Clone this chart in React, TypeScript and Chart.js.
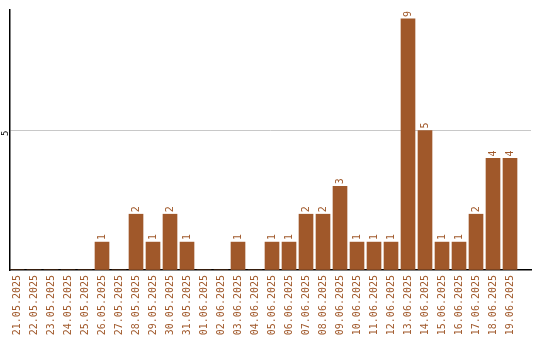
import React, { useEffect, useRef } from "react";
import { Chart, registerables } from "chart.js";

Chart.register(...registerables);

const dateLabels: string[] = [
  "21.05.2025", "22.05.2025", "23.05.2025", "24.05.2025", "25.05.2025",
  "26.05.2025", "27.05.2025", "28.05.2025", "29.05.2025", "30.05.2025",
  "31.05.2025", "01.06.2025", "02.06.2025", "03.06.2025", "04.06.2025",
  "05.06.2025", "06.06.2025", "07.06.2025", "08.06.2025", "09.06.2025",
  "10.06.2025", "11.06.2025", "12.06.2025", "13.06.2025", "14.06.2025",
  "15.06.2025", "16.06.2025", "17.06.2025", "18.06.2025", "19.06.2025",
];

const counts: number[] = [
  0, 0, 0, 0, 0,
  1, 0, 2, 1, 2,
  1, 0, 0, 1, 0,
  1, 1, 2, 2, 3,
  1, 1, 1, 9, 5,
  1, 1, 2, 4, 4,
];

const yTickValues: number[] = [0, 5];

const BROWN = "#A0582A";
const FONT = "DejaVu Sans Mono";

const valueLabelPlugin = {
  id: "valueLabels",
  afterDatasetsDraw(chart: any) {
    const { ctx } = chart;
    const meta = chart.getDatasetMeta(0);
    ctx.save();
    ctx.fillStyle = BROWN;
    ctx.font = `10px "${FONT}"`;
    ctx.textAlign = "left";
    ctx.textBaseline = "middle";
    meta.data.forEach((bar: any, i: number) => {
      const v = counts[i];
      if (!v) return;
      ctx.save();
      ctx.translate(bar.x, bar.y - 2);
      ctx.rotate(-Math.PI / 2);
      ctx.fillText(String(v), 0, 0);
      ctx.restore();
    });
    ctx.restore();
  },
};

export default function App() {
  const ref = useRef<HTMLCanvasElement>(null);
  useEffect(() => {
    if (!ref.current) return;
    const chart = new Chart(ref.current, {
      type: "bar",
      data: {
        datasets: [
          {
            data: counts.map((v, i) => ({ x: i, y: v })),
            backgroundColor: "#A0582A",
            borderWidth: 0,
            barThickness: 14,
          },
        ],
      },
      options: {
        animation: false,
        responsive: false,
        maintainAspectRatio: false,
        layout: { padding: { left: 0, top: 10, right: 9, bottom: 0 } },
        plugins: {
          legend: { display: false },
          tooltip: { enabled: false },
        },
        scales: {
          x: {
            type: "linear",
            offset: false,
            min: -0.412,
            max: 30.235,
            afterBuildTicks: (scale: any) => {
              scale.ticks = dateLabels.map((_, i) => ({ value: i }));
            },
            afterFit: (scale: any) => {
              scale.height = 70;
              scale.paddingLeft = 0;
              scale.paddingRight = 0;
            },
            grid: { display: false, drawTicks: false, offset: false },
            border: { display: true, color: "#000", width: 1.5 },
            ticks: {
              autoSkip: false,
              minRotation: 90,
              maxRotation: 90,
              padding: 5,
              color: BROWN,
              font: { family: FONT, size: 10 },
              callback: (v: any) => dateLabels[v] ?? "",
            },
          },
          y: {
            min: 0,
            max: 9.32,
            afterBuildTicks: (scale: any) => {
              scale.ticks = yTickValues.map((v) => ({ value: v }));
            },
            afterFit: (scale: any) => {
              scale.width = 10;
              scale.paddingTop = 0;
              scale.paddingBottom = 0;
            },
            grid: {
              drawTicks: false,
              color: (c: any) => (c.tick && c.tick.value === 5 ? "#c8c8c8" : "rgba(0,0,0,0)"),
            },
            border: { display: true, color: "#000", width: 1.5 },
            ticks: {
              minRotation: 90,
              maxRotation: 90,
              padding: 4,
              color: "#000",
              font: { family: FONT, size: 9 },
              callback: (v: any) => (v === 5 ? "5" : ""),
            },
          },
        },
      },
      plugins: [valueLabelPlugin],
    });
    return () => chart.destroy();
  }, []);
  return (
    <div style={{ position: "fixed", left: 0, top: 0, width: 540, height: 340, background: "#fff" }}>
      <canvas ref={ref} width={540} height={340} style={{ width: 540, height: 340 }} />
    </div>
  );
}
